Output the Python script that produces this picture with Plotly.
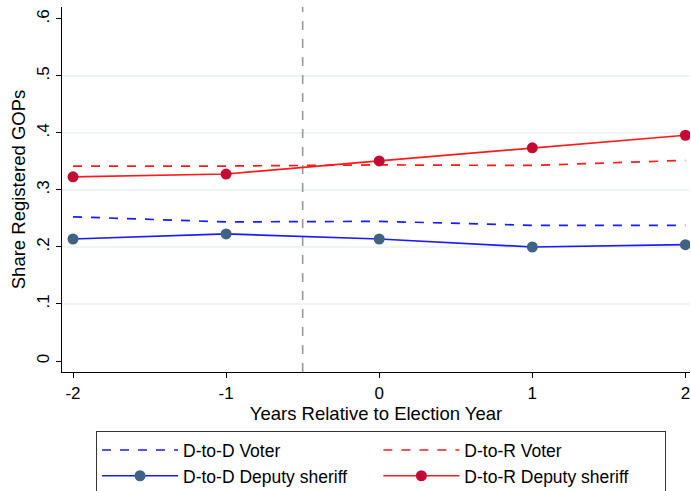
import plotly.graph_objects as go

# Years relative to the election year
years = [-2, -1, 0, 1, 2]
x_tick_text = ["-2", "-1", "0", "1", "2"]

# Share of registered Republicans by group
dd_voter = [0.253, 0.244, 0.245, 0.238, 0.238]
dr_voter = [0.342, 0.342, 0.344, 0.343, 0.352]
dd_deputy = [0.214, 0.223, 0.214, 0.200, 0.204]
dr_deputy = [0.323, 0.328, 0.351, 0.374, 0.396]

y_ticks = [0, 0.1, 0.2, 0.3, 0.4, 0.5, 0.6]
y_tick_text = ["0", ".1", ".2", ".3", ".4", ".5", ".6"]
grid_vals = [0.1, 0.2, 0.3, 0.4, 0.5]
event_line = -0.5

FONT = "Liberation Sans, Arial, Helvetica, sans-serif"
FS_TICK = 17
FS_TITLE = 18.5
FS_LEG = 17.5

fig = go.Figure()
fig.add_trace(go.Scatter(x=years, y=dd_voter, mode="lines", name="D-to-D Voter",
                         line=dict(color="#1a1aff", width=1.7, dash="dash")))
fig.add_trace(go.Scatter(x=years, y=dr_voter, mode="lines", name="D-to-R Voter",
                         line=dict(color="#ff1a1a", width=1.7, dash="dash")))
fig.add_trace(go.Scatter(x=years, y=dd_deputy, mode="lines+markers", name="D-to-D Deputy sheriff",
                         line=dict(color="#1a1aff", width=1.7),
                         marker=dict(color="#3f6383", size=11)))
fig.add_trace(go.Scatter(x=years, y=dr_deputy, mode="lines+markers", name="D-to-R Deputy sheriff",
                         line=dict(color="#ff1a1a", width=1.7),
                         marker=dict(color="#c20a35", size=11)))

shapes = []
for g in grid_vals:
    shapes.append(dict(type="line", xref="paper", x0=0, x1=1, yref="y", y0=g, y1=g,
                       line=dict(color="#e8eff1", width=1.5), layer="below"))
shapes.append(dict(type="line", xref="x", x0=event_line, x1=event_line, yref="paper", y0=0, y1=1,
                   line=dict(color="#999999", width=1.6, dash="dash"), layer="below"))

fig.update_layout(
    width=691, height=491,
    margin=dict(l=62, r=1, t=7, b=119, autoexpand=False),
    paper_bgcolor="white", plot_bgcolor="white",
    font=dict(family=FONT, size=FS_TICK, color="black"),
    shapes=shapes,
    showlegend=True,
    legend=dict(
        orientation="h", x=0.508, xanchor="center", y=-0.162, yanchor="top",
        entrywidth=0.448, entrywidthmode="fraction",
        bordercolor="#333333", borderwidth=1,
        font=dict(family=FONT, size=FS_LEG), itemwidth=76,
        tracegroupgap=0,
    ),
    xaxis=dict(
        range=[-2.072, 2.03], tickvals=years, ticktext=x_tick_text,
        showline=True, linecolor="black", linewidth=1.2,
        ticks="outside", ticklen=5, tickcolor="black",
        showgrid=False, zeroline=False,
        tickfont=dict(size=FS_TICK),
        title=dict(text="Years Relative to Election Year", font=dict(size=FS_TITLE), standoff=5),
    ),
    yaxis=dict(
        range=[-0.0193, 0.621], tickvals=y_ticks, ticktext=y_tick_text,
        tickangle=-90,
        showline=True, linecolor="black", linewidth=1.2,
        ticks="outside", ticklen=5, tickcolor="black",
        showgrid=False, zeroline=False,
        tickfont=dict(size=FS_TICK),
        title=dict(text="Share Registered GOPs", font=dict(size=FS_TITLE), standoff=3),
    ),
)

fig.write_html("out.html")
